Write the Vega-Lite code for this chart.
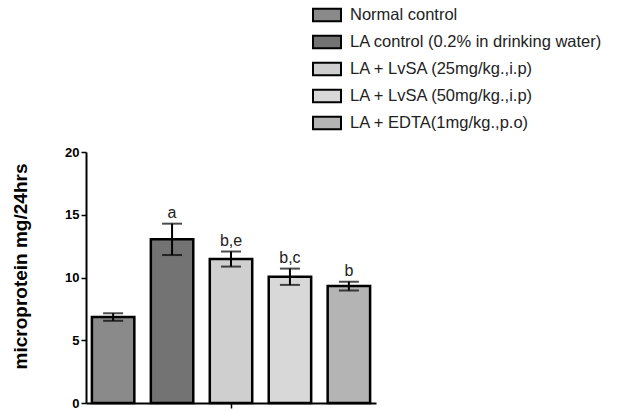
{
  "$schema": "https://vega.github.io/schema/vega-lite/v6.json",
  "width": 290,
  "height": 251,
  "autosize": "none",
  "padding": {"left": 86, "top": 152, "right": 255, "bottom": 8},
  "background": "white",
  "config": {"view": {"stroke": null}, "font": "Liberation Sans"},
  "data": {
    "values": [
      {"group": "Normal control", "mean": 6.85, "sem": 0.3, "label": ""},
      {"group": "LA control (0.2% in drinking water)", "mean": 13.04, "sem": 1.25, "label": "a"},
      {"group": "LA + LvSA (25mg/kg.,i.p)", "mean": 11.47, "sem": 0.6, "label": "b,e"},
      {"group": "LA + LvSA (50mg/kg.,i.p)", "mean": 10.06, "sem": 0.65, "label": "b,c"},
      {"group": "LA + EDTA(1mg/kg.,p.o)", "mean": 9.32, "sem": 0.35, "label": "b"}
    ]
  },
  "transform": [
    {"calculate": "datum.mean + datum.sem", "as": "hi"},
    {"calculate": "datum.mean - datum.sem", "as": "lo"}
  ],
  "encoding": {
    "x": {
      "field": "group",
      "type": "nominal",
      "sort": null,
      "scale": {"paddingInner": 0.28, "paddingOuter": 0.1},
      "axis": {
        "title": null,
        "labels": false,
        "values": ["LA + LvSA (25mg/kg.,i.p)"],
        "domainColor": "black",
        "domainWidth": 2,
        "tickColor": "black",
        "tickWidth": 1.5,
        "tickSize": 5
      }
    }
  },
  "layer": [
    {
      "mark": {"type": "bar", "stroke": "black", "strokeWidth": 2.5},
      "encoding": {
        "y": {
          "field": "mean",
          "type": "quantitative",
          "scale": {"domain": [0, 20]},
          "axis": {
            "title": "microprotein mg/24hrs",
            "titleFontSize": 19,
            "titleFontWeight": "bold",
            "titleColor": "black",
            "titlePadding": 34,
            "titleY": 114,
            "values": [0, 5, 10, 15, 20],
            "grid": false,
            "labelFontSize": 13,
            "labelFontWeight": "bold",
            "labelColor": "black",
            "domainColor": "black",
            "domainWidth": 2,
            "tickColor": "black",
            "tickWidth": 1.5,
            "tickSize": 5,
            "labelPadding": 2
          }
        },
        "fill": {
          "field": "group",
          "type": "nominal",
          "sort": null,
          "scale": {"range": ["#8a8a8a", "#737373", "#cfcfcf", "#d8d8d8", "#b4b4b4"]},
          "legend": {
            "title": null,
            "orient": "none",
            "legendX": 226,
            "legendY": -152,
            "symbolType": "M-1,-0.45H1V0.45H-1Z",
            "symbolSize": 784,
            "symbolStrokeColor": "black",
            "symbolStrokeWidth": 2,
            "labelFontSize": 16.5,
            "labelColor": "#222",
            "labelOffset": 8,
            "rowPadding": 1,
            "labelLimit": 400
          }
        }
      }
    },
    {
      "mark": {"type": "rule", "color": "black", "strokeWidth": 2},
      "encoding": {
        "y": {"field": "lo", "type": "quantitative"},
        "y2": {"field": "hi"}
      }
    },
    {
      "mark": {"type": "tick", "color": "black", "thickness": 2, "size": 20},
      "encoding": {"y": {"field": "hi", "type": "quantitative"}}
    },
    {
      "mark": {"type": "tick", "color": "black", "thickness": 2, "size": 20},
      "encoding": {"y": {"field": "lo", "type": "quantitative"}}
    },
    {
      "mark": {"type": "text", "fontSize": 16, "color": "#222", "baseline": "bottom", "dy": -3},
      "encoding": {
        "y": {"field": "hi", "type": "quantitative"},
        "text": {"field": "label"}
      }
    }
  ]
}
